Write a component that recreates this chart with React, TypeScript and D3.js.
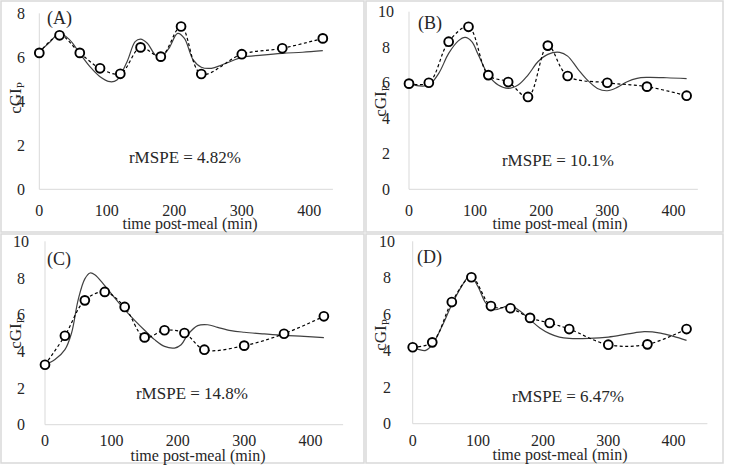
import React from "react";
import * as d3 from "d3";

// ---- Data ----
const sampleTimes = [0, 30, 60, 90, 120, 150, 180, 210, 240, 300, 360, 420];
const xTicks = [0, 100, 200, 300, 400];
const yTicks8 = [0, 2, 4, 6, 8];
const yTicks10 = [0, 2, 4, 6, 8, 10];
const panelLabels = ["(A)", "(B)", "(C)", "(D)"];
const rmspeLabels = ["rMSPE = 4.82%", "rMSPE = 10.1%", "rMSPE = 14.8%", "rMSPE = 6.47%"];

const measuredA = [6.2, 7.0, 6.2, 5.5, 5.25, 6.45, 6.03, 7.4, 5.24, 6.14, 6.41, 6.86];
const measuredB = [5.95, 6.0, 8.31, 9.15, 6.43, 6.04, 5.2, 8.09, 6.38, 6.0, 5.78, 5.27];
const measuredC = [3.27, 4.85, 6.78, 7.24, 6.42, 4.76, 5.15, 5.0, 4.09, 4.31, 4.96, 5.91];
const measuredD = [4.19, 4.46, 6.67, 8.03, 6.45, 6.33, 5.8, 5.52, 5.19, 4.33, 4.35, 5.19];

const modelTimesA = [0, 15, 30, 45, 60, 75, 90, 105, 115, 130, 142, 150, 160, 172, 180, 192, 205, 215, 228, 240, 255, 270, 285, 300, 330, 360, 390, 420];
const modelA = [6.26, 6.67, 7.09, 6.79, 6.18, 5.58, 5.12, 4.89, 4.97, 5.8, 6.71, 6.83, 6.64, 6.1, 6.0, 6.41, 7.09, 6.86, 5.88, 5.55, 5.5, 5.65, 5.83, 6.0, 6.1, 6.18, 6.23, 6.3];

const modelTimesB = [0, 15, 30, 45, 60, 75, 85, 95, 105, 120, 135, 150, 165, 180, 195, 210, 228, 240, 255, 270, 285, 300, 315, 330, 345, 360, 390, 420];
const modelB = [5.97, 5.82, 5.87, 6.53, 7.65, 8.37, 8.55, 8.31, 7.56, 6.43, 5.87, 5.68, 5.87, 6.43, 7.18, 7.6, 7.71, 7.5, 6.8, 6.15, 5.68, 5.55, 5.74, 6.06, 6.25, 6.3, 6.28, 6.23];

const modelTimesC = [0, 15, 30, 40, 50, 60, 68, 75, 90, 105, 120, 135, 150, 165, 180, 195, 205, 215, 230, 245, 260, 280, 300, 330, 360, 390, 420];
const modelC = [3.27, 3.55, 4.09, 5.0, 6.82, 7.95, 8.27, 8.18, 7.58, 6.91, 6.27, 5.69, 5.15, 4.64, 4.27, 4.18, 4.36, 4.91, 5.4, 5.45, 5.31, 5.13, 5.04, 4.95, 4.87, 4.82, 4.75];

const modelTimesD = [0, 10, 20, 30, 45, 60, 75, 88, 100, 112, 125, 140, 150, 165, 180, 195, 210, 225, 240, 270, 300, 330, 355, 380, 400, 420];
const modelD = [4.19, 4.06, 4.02, 4.33, 5.34, 6.53, 7.53, 8.12, 7.53, 6.62, 6.25, 6.4, 6.47, 6.16, 5.7, 5.25, 4.94, 4.75, 4.68, 4.68, 4.75, 4.92, 5.05, 4.97, 4.79, 4.57];

const measuredSeries = [measuredA, measuredB, measuredC, measuredD];
const modelTimesSeries = [modelTimesA, modelTimesB, modelTimesC, modelTimesD];
const modelSeries = [modelA, modelB, modelC, modelD];

// ---- Layout (per panel) ----
const layouts = [
  { x0: 39.3, k: 0.675, xEnd: 435, yBase: 189.3, yTop: 13.3, yMax: 8, yTicks: yTicks8, tickX: 21, xTickY: 210, titleX: 190, titleY: 223, rX: 185, rY: 157, labX: 47, labY: 18, ylabX: 15, ylabY: 98 },
  { x0: 409, k: 0.661, xEnd: 437, yBase: 189.3, yTop: 11.7, yMax: 10, yTicks: yTicks10, tickX: 386, xTickY: 210, titleX: 560, titleY: 223, rX: 558, rY: 160, labX: 418, labY: 23, ylabX: 380, ylabY: 101 },
  { x0: 45, k: 0.664, xEnd: 449, yBase: 424.7, yTop: 241.3, yMax: 10, yTicks: yTicks10, tickX: 21, xTickY: 440, titleX: 198, titleY: 455, rX: 192, rY: 393, labX: 47, labY: 259, ylabX: 15, ylabY: 333 },
  { x0: 412.7, k: 0.652, xEnd: 452, yBase: 423.7, yTop: 241.3, yMax: 10, yTicks: yTicks10, tickX: 387, xTickY: 440, titleX: 560, titleY: 454, rX: 568, rY: 396, labX: 417, labY: 257, ylabX: 380, ylabY: 335 },
];

const FONT = "'Liberation Serif', 'Times New Roman', serif";
const TEXT = "#262626";

function Panel({ i }: { i: number }) {
  const L = layouts[i];
  const x = d3.scaleLinear().domain([0, L.xEnd]).range([L.x0, L.x0 + L.k * L.xEnd]);
  const y = d3.scaleLinear().domain([0, L.yMax]).range([L.yBase, L.yTop]);
  const measured = measuredSeries[i];
  const mt = modelTimesSeries[i];
  const mv = modelSeries[i];
  const pts: [number, number][] = sampleTimes.map((t, j) => [t, measured[j]]);
  const mpts: [number, number][] = mt.map((t, j) => [t, mv[j]]);
  const line = d3
    .line<[number, number]>()
    .x((d) => x(d[0]))
    .y((d) => y(d[1]))
    .curve(d3.curveCatmullRom.alpha(0.5));
  return (
    <g>
      <line x1={x(0)} x2={x(0)} y1={y(0)} y2={y(L.yMax)} stroke="#d9d9d9" strokeWidth={1} />
      <line x1={x(0)} x2={x(L.xEnd)} y1={y(0)} y2={y(0)} stroke="#d9d9d9" strokeWidth={1} />
      {L.yTicks.map((t) => (
        <text key={"y" + t} x={L.tickX} y={y(t)} dy="0.35em" textAnchor="middle" fontSize={16} fill={TEXT} fontFamily={FONT}>
          {t}
        </text>
      ))}
      {xTicks.map((t) => (
        <text key={"x" + t} x={x(t)} y={L.xTickY} dy="0.35em" textAnchor="middle" fontSize={16} fill={TEXT} fontFamily={FONT}>
          {t}
        </text>
      ))}
      <text x={L.titleX} y={L.titleY} dy="0.35em" textAnchor="middle" fontSize={16} fill={TEXT} fontFamily={FONT}>
        time post-meal (min)
      </text>
      <text transform={`translate(${L.ylabX},${L.ylabY}) rotate(-90)`} dy="0.35em" textAnchor="middle" fontSize={17} fill={TEXT} fontFamily={FONT}>
        cGI<tspan fontSize={11} dy="0.3em">P</tspan>
      </text>
      <text x={L.labX} y={L.labY} dy="0.35em" fontSize={18} fill={TEXT} fontFamily={FONT}>
        {panelLabels[i]}
      </text>
      <text x={L.rX} y={L.rY} dy="0.35em" textAnchor="middle" fontSize={17} fill={TEXT} fontFamily={FONT}>
        {rmspeLabels[i]}
      </text>
      <path d={line(mpts) || ""} fill="none" stroke="#404040" strokeWidth={1.2} />
      <path d={line(pts) || ""} fill="none" stroke="#000" strokeWidth={1.2} strokeDasharray="3,2.5" />
      {pts.map((p, j) => (
        <circle key={j} cx={x(p[0])} cy={y(p[1])} r={4.4} fill="#fff" stroke="#000" strokeWidth={1.9} />
      ))}
    </g>
  );
}

export default function App() {
  return (
    <svg width={731} height={467} style={{ position: "absolute", left: 0, top: 0, background: "#fff" }}>
      <rect x={0} y={0} width={731} height={467} fill="#fff" />
      <rect x={1} y={1} width={363} height={231} fill="none" stroke="#d9d9d9" strokeWidth={1.5} />
      <rect x={366} y={1} width={357} height={231} fill="none" stroke="#d9d9d9" strokeWidth={1.5} />
      <rect x={1} y={234} width={363} height={229} fill="none" stroke="#d9d9d9" strokeWidth={1.5} />
      <rect x={366} y={234} width={357} height={229} fill="none" stroke="#d9d9d9" strokeWidth={1.5} />
      {[0, 1, 2, 3].map((i) => (
        <Panel key={i} i={i} />
      ))}
    </svg>
  );
}
